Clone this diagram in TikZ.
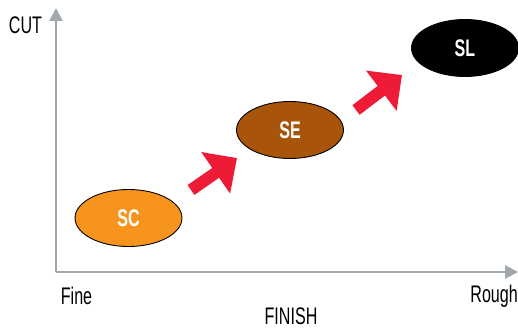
\documentclass[tikz,border=0pt]{standalone}
\usepackage{fontspec}
\setmainfont{Liberation Sans}[FakeStretch=0.67]
\usepackage{tikz}
\usetikzlibrary{arrows.meta,shapes.geometric,positioning}
\definecolor{axisgray}{HTML}{A0A8AD}
\definecolor{pushred}{HTML}{ED1B36}
\definecolor{scorange}{HTML}{F7941E}
\definecolor{sebrown}{HTML}{A8540B}

\begin{document}
\begin{tikzpicture}[
    x=1pt, y=1pt,
    >=Latex,
    oval/.style={draw, ellipse, line width=0.9pt, inner sep=0pt,
        minimum width=107pt, minimum height=57pt,
        text=white, font=\fontsize{24}{26}\selectfont\bfseries},
    lab/.style={font=\fontsize{24}{26}\selectfont, inner sep=0pt},
    axis/.style={axisgray, line width=2.6pt,
        -{Triangle[length=13pt,width=13pt]}},
    push/.style={pushred, line width=12pt,
        -{Triangle[length=26pt,width=49pt]}}
]
\useasboundingbox (0,0) rectangle (518,329);
% axes
\coordinate (o) at (56,57);
\coordinate (ytop) at (56,321);
\coordinate (xend) at (518,57);
\draw[axis] (o) -- (ytop);
\draw[axis] (o) -- (xend);
\node[lab] (cut) at (25.5,304) {CUT};
\node[lab] (fine) at (76.5,33) {Fine};
\node[lab, anchor=east] (rough) at (518,33) {Rough};
\node[lab] (finish) at (291,13) {FINISH};

% cutting ranges
\node[oval, fill=scorange] (sc) at (128.5,111) {SC};
\node[oval, fill=sebrown] (se) at (290,199) {SE};
\node[oval, fill=black] (sl) at (465,281) {SL};

\coordinate (p1a) at (191,139);
\coordinate (p1b) at (237,171);
\coordinate (p2a) at (356,219);
\coordinate (p2b) at (402,254);
\draw[push] (p1a) -- (p1b);
\draw[push] (p2a) -- (p2b);
\end{tikzpicture}
\end{document}
